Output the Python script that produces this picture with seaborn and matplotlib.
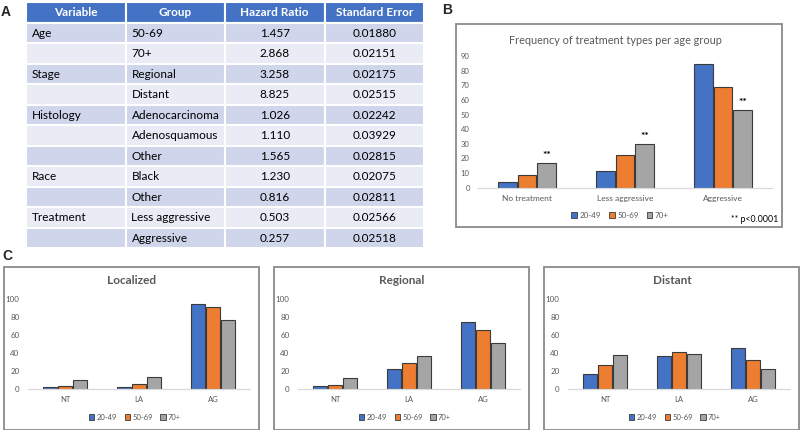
import matplotlib
matplotlib.use("Agg")
import matplotlib.pyplot as plt
from matplotlib.patches import Rectangle, Patch
import seaborn as sns
import pandas as pd

sns.set_style("white")
plt.rcParams["font.family"] = ["Lato", "DejaVu Sans"]

# ---------------- data ----------------
table_header = ["Variable", "Group", "Hazard Ratio", "Standard Error"]
variables = ["Age", "", "Stage", "", "Histology", "", "", "Race", "", "Treatment", ""]
groups = ["50-69", "70+", "Regional", "Distant", "Adenocarcinoma", "Adenosquamous",
          "Other", "Black", "Other", "Less aggressive", "Aggressive"]
hazard_ratio = [1.457, 2.868, 3.258, 8.825, 1.026, 1.110, 1.565, 1.230, 0.816, 0.503, 0.257]
std_error = [0.01880, 0.02151, 0.02175, 0.02515, 0.02242, 0.03929, 0.02815, 0.02075,
             0.02811, 0.02566, 0.02518]

age_groups = ["20-49", "50-69", "70+"]
b_categories = ["No treatment", "Less aggressive", "Aggressive"]
b_20_49 = [4, 11.5, 84.5]
b_50_69 = [8.5, 22.5, 69]
b_70p = [17, 30, 53]

c_categories = ["NT", "LA", "AG"]
c_titles = ["Localized", "Regional", "Distant"]
loc_20_49 = [2.6, 2.6, 95]
loc_50_69 = [3.7, 5.5, 91]
loc_70p = [10.4, 13.3, 76.7]
reg_20_49 = [3.3, 22.6, 74.8]
reg_50_69 = [5.2, 29.3, 65.6]
reg_70p = [12.2, 36.7, 51.5]
dis_20_49 = [17, 37, 46.3]
dis_50_69 = [26.7, 41.1, 32.6]
dis_70p = [38.1, 39.3, 23]

palette = {"20-49": "#4472C4", "50-69": "#ED7D31", "70+": "#A5A5A5"}
edge_col = "#3b3b3b"
text_gray = "#595959"

W, H = 800, 430
fig = plt.figure(figsize=(8, 4.3), dpi=100)


def rect(l, t, r, b):
    return [l / W, 1 - b / H, (r - l) / W, (b - t) / H]


def fx(x):
    return x / W


def fy(y):
    return 1 - y / H


def frame(l, t, r, b):
    fig.add_artist(Rectangle((fx(l), fy(b)), (r - l) / W, (b - t) / H,
                             transform=fig.transFigure, facecolor="white",
                             edgecolor="#8a8a8a", lw=1.3, zorder=0))


def long_df(cats, s1, s2, s3):
    rows = []
    for name, vals in zip(age_groups, [s1, s2, s3]):
        for c, v in zip(cats, vals):
            rows.append({"cat": c, "age": name, "val": v})
    return pd.DataFrame(rows)


def bar_panel(ax, df, cats, ylim, yticks, tick_fs, cat_fs):
    sns.barplot(data=df, x="cat", y="val", hue="age", order=cats,
                hue_order=age_groups, palette=palette, saturation=1, width=0.6, gap=0.07,
                edgecolor=edge_col, linewidth=0.8, legend=False, ax=ax,
                errorbar=None)
    ax.set_facecolor("none")
    ax.set_ylim(*ylim)
    ax.set_yticks(yticks)
    ax.set_xlabel("")
    ax.set_ylabel("")
    for s in ["top", "right", "left"]:
        ax.spines[s].set_visible(False)
    ax.spines["bottom"].set_color("#d9d9d9")
    ax.spines["bottom"].set_linewidth(0.9)
    ax.tick_params(axis="both", length=0, colors=text_gray)
    ax.tick_params(axis="y", labelsize=tick_fs, pad=6)
    ax.tick_params(axis="x", labelsize=cat_fs, pad=5)


def legend_at(x, y, fs):
    handles = [Patch(facecolor=palette[a], edgecolor=edge_col, lw=0.6) for a in age_groups]
    fig.legend(handles, age_groups, loc="center", bbox_to_anchor=(fx(x), fy(y)),
               ncol=3, frameon=False, fontsize=fs, handlelength=0.7, handleheight=0.7,
               handletextpad=0.3, columnspacing=1.0, labelcolor=text_gray,
               borderpad=0)


# ---------------- Panel A: table ----------------
axt = fig.add_axes(rect(26, 2, 424, 248))
nrows = len(groups) + 1
axt.set_xlim(0, 4)
axt.set_ylim(nrows, 0)
axt.axis("off")
header_col = "#4472C4"
dark_row = "#CFD5EA"
light_row = "#E9EBF5"
for j, h in enumerate(table_header):
    axt.add_patch(Rectangle((j, 0), 1, 1, facecolor=header_col, edgecolor="white", lw=1.5))
    axt.text(j + 0.5, 0.5, h, ha="center", va="center", color="white",
             fontsize=8.5, fontweight="bold")
for i in range(len(groups)):
    r = i + 1
    col = dark_row if i % 2 == 0 else light_row
    cells = [variables[i], groups[i], f"{hazard_ratio[i]:.3f}", f"{std_error[i]:.5f}"]
    for j, txt in enumerate(cells):
        axt.add_patch(Rectangle((j, r), 1, 1, facecolor=col, edgecolor="white", lw=1.5))
        if j < 2:
            axt.text(j + 0.06, r + 0.52, txt, ha="left", va="center", fontsize=8.5, color="black")
        else:
            axt.text(j + 0.5, r + 0.52, txt, ha="center", va="center", fontsize=8.5, color="black")

# ---------------- Panel B ----------------
frame(456, 24, 782, 227)
axb = fig.add_axes(rect(478, 56, 772, 187.7))
df_b = long_df(b_categories, b_20_49, b_50_69, b_70p)
bar_panel(axb, df_b, b_categories, (0, 90), range(0, 91, 10), 5.5, 6)
# significance marks over the 70+ bars
gray_bars = axb.containers[2]
for p in gray_bars:
    axb.text(p.get_x() + p.get_width() / 2, p.get_height() + 2.0, "**",
             ha="center", va="bottom", fontsize=7.5, color="black", fontweight="bold")
fig.text(fx(615), fy(40), "Frequency of treatment types per age group", ha="center",
         va="center", fontsize=7.8, color=text_gray)
legend_at(620, 215, 5.8)
fig.text(fx(778), fy(219), "** p<0.0001", ha="right", va="center", fontsize=6.3, color="black")

# ---------------- Panel C ----------------
c_data = [(loc_20_49, loc_50_69, loc_70p), (reg_20_49, reg_50_69, reg_70p),
          (dis_20_49, dis_50_69, dis_70p)]
for k, (ox, title, series) in enumerate(zip([0, 270, 540], c_titles, c_data)):
    frame(4 + ox, 267, 259 + ox if k < 2 else 798.5, 429.5)
    ax = fig.add_axes(rect(28 + ox, 299.3, 250 + ox, 389.3))
    df_c = long_df(c_categories, *series)
    bar_panel(ax, df_c, c_categories, (0, 100), range(0, 101, 20), 5.8, 5.5)
    fig.text(fx(132 + ox), fy(281), title, ha="center", va="center", fontsize=8.5,
             color=text_gray, fontweight="bold")
    legend_at(135 + ox, 417, 5.5)

# panel letters
for lbl, x, y in [("A", 6, 12), ("B", 447, 10), ("C", 7, 256)]:
    fig.text(fx(x), fy(y), lbl, ha="center", va="center", fontsize=10,
             fontweight="bold", family=["Liberation Sans", "DejaVu Sans"])

fig.savefig("out.png", dpi=100)
